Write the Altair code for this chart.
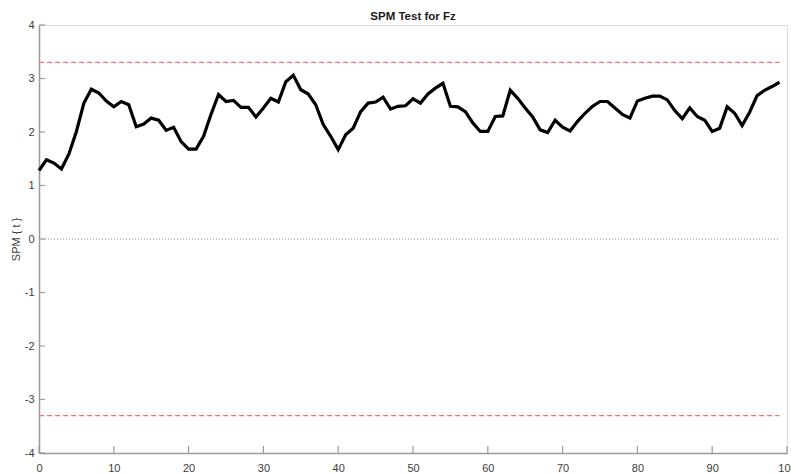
import altair as alt
import pandas as pd

# SPM{t} trajectory over normalised time (0-99 %)
frames = list(range(100))
spm_t = [
    1.28, 1.48, 1.42, 1.31, 1.59, 2.01, 2.54, 2.80, 2.73, 2.58,
    2.47, 2.57, 2.51, 2.10, 2.15, 2.26, 2.22, 2.03, 2.09, 1.82,
    1.68, 1.68, 1.92, 2.33, 2.70, 2.57, 2.59, 2.46, 2.46, 2.28,
    2.45, 2.63, 2.56, 2.94, 3.06, 2.79, 2.71, 2.51, 2.14, 1.92,
    1.67, 1.95, 2.07, 2.38, 2.54, 2.56, 2.65, 2.43, 2.48, 2.49,
    2.62, 2.54, 2.71, 2.82, 2.91, 2.48, 2.47, 2.38, 2.17, 2.01,
    2.01, 2.29, 2.30, 2.78, 2.63, 2.45, 2.28, 2.04, 1.99, 2.22,
    2.09, 2.02, 2.20, 2.35, 2.48, 2.57, 2.57, 2.45, 2.33, 2.26,
    2.58, 2.63, 2.67, 2.67, 2.60, 2.40, 2.25, 2.45, 2.29, 2.22,
    2.01, 2.07, 2.47, 2.35, 2.12, 2.37, 2.68, 2.78, 2.85, 2.93,
]

# critical threshold (two-tailed) and reference level
threshold = 3.30
x_ticks = [0, 10, 20, 30, 40, 50, 60, 70, 80, 90, 100]
y_ticks = [-4, -3, -2, -1, 0, 1, 2, 3, 4]

W, H = 748, 428
FONT = "Liberation Sans"
AXIS_GREY = "#9a9a9a"
LABEL_GREY = "#3c3c3c"

x_scale = alt.Scale(domain=[0, 100], nice=False, zero=False)
y_scale = alt.Scale(domain=[-4, 4], nice=False, zero=False)

df = pd.DataFrame({"frame": frames, "t": spm_t})
thr_df = pd.DataFrame({"x0": [frames[0]] * 2, "x1": [frames[-1]] * 2,
                       "y": [threshold, -threshold]})
zero_df = pd.DataFrame({"x0": [frames[0]], "x1": [frames[-1]], "y": [0]})
xt_df = pd.DataFrame({"v": x_ticks})
yt_df = pd.DataFrame({"v": y_ticks})

x_axis = alt.Axis(values=x_ticks, ticks=False, grid=False, domainColor=AXIS_GREY,
                  domainWidth=1.5, labelColor=LABEL_GREY, labelFont=FONT,
                  labelFontSize=11, labelPadding=9, title=None,
                  labelFlush=False, labelExpr="toString(datum.value)")
y_axis = alt.Axis(values=y_ticks, ticks=False, grid=False, domainColor=AXIS_GREY,
                  domainWidth=1.5, labelColor=LABEL_GREY, labelFont=FONT,
                  labelFontSize=11, labelPadding=5, title="SPM { t }",
                  titleFont=FONT, titleFontSize=11, titleFontWeight="normal",
                  titleColor=LABEL_GREY, titlePadding=3, labelFlush=False,
                  labelExpr="toString(datum.value)")

zero_line = alt.Chart(zero_df).mark_rule(
    color="#8a8a8a", strokeWidth=1, strokeDash=[1, 2]
).encode(
    x=alt.X("x0:Q", scale=x_scale, axis=x_axis),
    x2="x1:Q",
    y=alt.Y("y:Q", scale=y_scale, axis=y_axis),
)

thr_lines = alt.Chart(thr_df).mark_rule(
    color="#f27575", strokeWidth=1.2, strokeDash=[5, 3]
).encode(
    x=alt.X("x0:Q", scale=x_scale),
    x2="x1:Q",
    y=alt.Y("y:Q", scale=y_scale),
)

trace = alt.Chart(df).mark_line(
    color="black", strokeWidth=3.2, strokeJoin="miter", strokeCap="butt"
).encode(
    x=alt.X("frame:Q", scale=x_scale),
    y=alt.Y("t:Q", scale=y_scale),
)

# inward-pointing tick marks
x_tick_marks = alt.Chart(xt_df).mark_rule(color=AXIS_GREY, strokeWidth=1.2).encode(
    x=alt.X("v:Q", scale=x_scale),
    y=alt.value(H),
    y2=alt.value(H - 7),
)
y_tick_marks = alt.Chart(yt_df).mark_rule(color=AXIS_GREY, strokeWidth=1.2).encode(
    y=alt.Y("v:Q", scale=y_scale),
    x=alt.value(0),
    x2=alt.value(6),
)

chart = alt.layer(
    zero_line, thr_lines, trace, x_tick_marks, y_tick_marks
).properties(
    width=W,
    height=H,
    title=alt.TitleParams("SPM Test for Fz", font=FONT, fontSize=11.5,
                          fontWeight="bold", color="#1a1a1a", anchor="middle",
                          baseline="alphabetic", offset=5, dy=17),
    autosize=alt.AutoSizeParams(type="none"),
    padding={"left": 39, "top": 25, "right": 4, "bottom": 20},
).configure_view(stroke=None).configure(background="white")

chart.save("out.html", embed_options={"renderer": "svg", "actions": False})
